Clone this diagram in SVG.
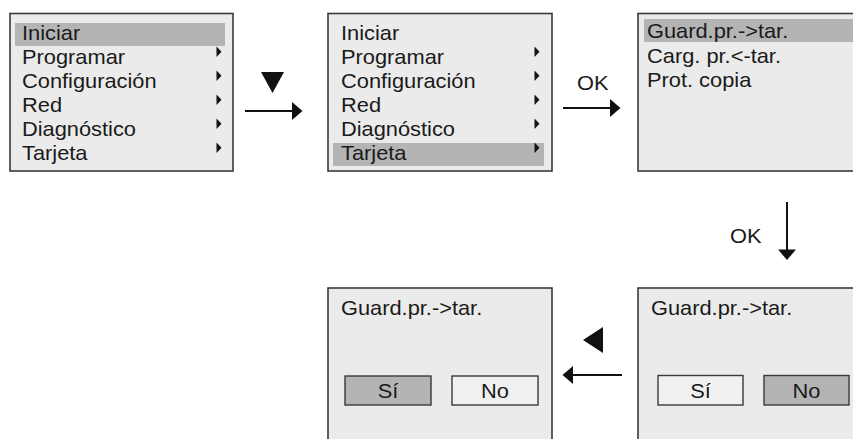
<svg xmlns="http://www.w3.org/2000/svg" width="853" height="439" viewBox="0 0 853 439">
<defs>
<style>
.box{fill:#ebebeb;stroke:#3a3a3a;stroke-width:1.6}
.hl{fill:#b4b4b4}
.btn{stroke:#3a3a3a;stroke-width:1.4}
.on{fill:#b4b4b4}
.off{fill:#f0f0f0}
text{font-family:"Liberation Sans",Arial,sans-serif;font-size:20.5px;fill:#1a1a1a}
.c{text-anchor:middle}
.tri{fill:#111}
.ln{stroke:#111;stroke-width:2;fill:none}
</style>
</defs>
<rect width="853" height="439" fill="#fff"/>

<g id="menu1">
<rect class="box" x="10" y="13.5" width="223" height="157.5"/>
<rect class="hl" x="15" y="23" width="210" height="23"/>
<text transform="translate(22 40) scale(1.065 1)">Iniciar</text>
<text transform="translate(22 64) scale(1.065 1)">Programar</text>
<text transform="translate(22 88) scale(1.065 1)">Configuración</text>
<text transform="translate(22 112) scale(1.065 1)">Red</text>
<text transform="translate(22 136) scale(1.065 1)">Diagnóstico</text>
<text transform="translate(22 160) scale(1.065 1)">Tarjeta</text>
<polygon class="tri" points="216.5,46.5 216.5,57 221.5,51.75"/>
<polygon class="tri" points="216.5,70.5 216.5,81 221.5,75.75"/>
<polygon class="tri" points="216.5,94.5 216.5,105 221.5,99.75"/>
<polygon class="tri" points="216.5,118.5 216.5,129 221.5,123.75"/>
<polygon class="tri" points="216.5,142.5 216.5,153 221.5,147.75"/>
</g>

<g id="menu2">
<rect class="box" x="328" y="13.5" width="224" height="157.5"/>
<rect class="hl" x="333" y="143" width="211" height="23"/>
<text transform="translate(341 40) scale(1.065 1)">Iniciar</text>
<text transform="translate(341 64) scale(1.065 1)">Programar</text>
<text transform="translate(341 88) scale(1.065 1)">Configuración</text>
<text transform="translate(341 112) scale(1.065 1)">Red</text>
<text transform="translate(341 136) scale(1.065 1)">Diagnóstico</text>
<text transform="translate(341 160) scale(1.065 1)">Tarjeta</text>
<polygon class="tri" points="534.5,46.5 534.5,57 539.5,51.75"/>
<polygon class="tri" points="534.5,70.5 534.5,81 539.5,75.75"/>
<polygon class="tri" points="534.5,94.5 534.5,105 539.5,99.75"/>
<polygon class="tri" points="534.5,118.5 534.5,129 539.5,123.75"/>
<polygon class="tri" points="534.5,142.5 534.5,153 539.5,147.75"/>
</g>

<g id="menu3">
<rect class="box" x="638" y="13.5" width="230" height="157.5"/>
<rect class="hl" x="644" y="19" width="209" height="23"/>
<text transform="translate(647 37.5) scale(1.065 1)">Guard.pr.-&gt;tar.</text>
<text transform="translate(647 63) scale(1.065 1)">Carg. pr.&lt;-tar.</text>
<text transform="translate(647 87) scale(1.065 1)">Prot. copia</text>
</g>

<g id="confirmNo">
<rect class="box" x="638" y="288" width="230" height="170"/>
<text transform="translate(651 314.5) scale(1.065 1)">Guard.pr.-&gt;tar.</text>
<rect class="btn off" x="658" y="375.5" width="85" height="29.5"/>
<rect class="btn on" x="764" y="375.5" width="85" height="29.5"/>
<text class="c" transform="translate(700.5 397.5) scale(1.065 1)">Sí</text>
<text class="c" transform="translate(806.5 397.5) scale(1.065 1)">No</text>
</g>

<g id="confirmYes">
<rect class="box" x="328" y="288" width="224" height="170"/>
<text transform="translate(341 314.5) scale(1.065 1)">Guard.pr.-&gt;tar.</text>
<rect class="btn on" x="345" y="376" width="86" height="29"/>
<rect class="btn off" x="452" y="376" width="86" height="29"/>
<text class="c" transform="translate(388 397.5) scale(1.065 1)">Sí</text>
<text class="c" transform="translate(495 397.5) scale(1.065 1)">No</text>
</g>

<g id="connectors">
<polygon class="tri" points="261,72 284,72 272.5,93"/>
<line class="ln" x1="245" y1="111" x2="294" y2="111"/>
<polygon class="tri" points="302.5,111 292,102 292,120"/>

<text transform="translate(577 89.5) scale(1.065 1)">OK</text>
<line class="ln" x1="563" y1="108" x2="612" y2="108"/>
<polygon class="tri" points="620.5,108 610,99 610,117"/>

<text transform="translate(730 242.5) scale(1.065 1)">OK</text>
<line class="ln" x1="787" y1="202" x2="787" y2="251"/>
<polygon class="tri" points="787,260 778,249.5 796,249.5"/>

<polygon class="tri" points="603,327 603,353 583,340"/>
<line class="ln" x1="622" y1="375" x2="571" y2="375"/>
<polygon class="tri" points="562.5,375 573,366 573,384"/>
</g>
</svg>
